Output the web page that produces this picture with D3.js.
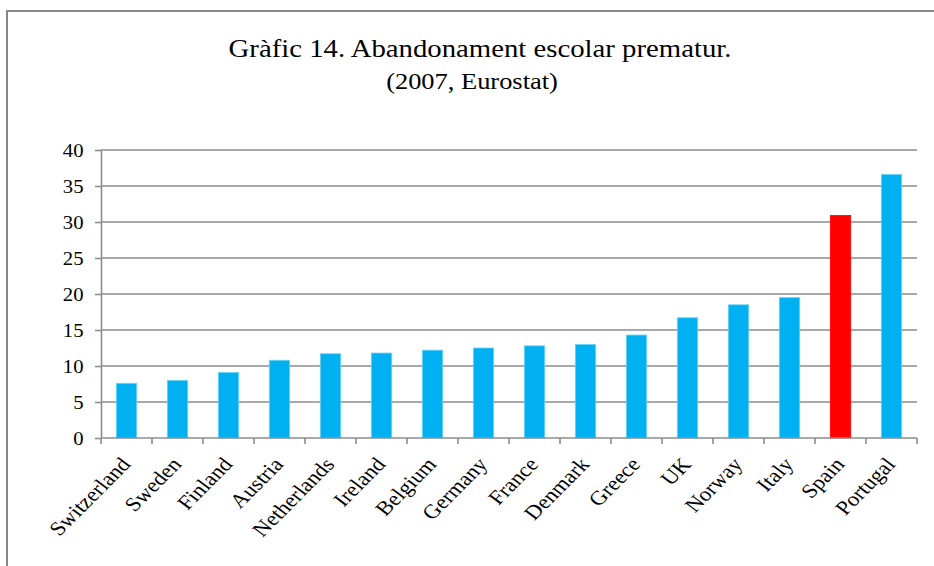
<!DOCTYPE html>
<html>
<head>
<meta charset="utf-8">
<script src="https://cdn.jsdelivr.net/npm/d3@7"></script>
<style>
  body { margin: 0; background: #fff; }
  svg text { font-family: "Liberation Serif", "Times New Roman", serif; fill: #000; }
</style>
</head>
<body>
<div id="chart"></div>
<script>
var countries = ["Switzerland", "Sweden", "Finland", "Austria", "Netherlands", "Ireland",
  "Belgium", "Germany", "France", "Denmark", "Greece", "UK", "Norway", "Italy", "Spain", "Portugal"];
var values = [7.6, 8.0, 9.1, 10.8, 11.7, 11.8, 12.2, 12.5, 12.8, 13.0, 14.3, 16.7, 18.5, 19.5, 30.9, 36.6];
var yTicks = [0, 5, 10, 15, 20, 25, 30, 35, 40];
var titleText = "Gràfic 14. Abandonament escolar prematur.";
var subtitleText = "(2007, Eurostat)";

var width = 934, height = 566;
var plotLeft = 101, plotRight = 917, plotTop = 150, plotBottom = 438;
var stretch = 1.15; // the picture is a bit wider than tall

var svg = d3.select("#chart").append("svg")
  .attr("width", width)
  .attr("height", height);

// frame of the chart object (cut at right and bottom)
svg.append("rect")
  .attr("x", 7).attr("y", 11)
  .attr("width", 960).attr("height", 600)
  .attr("fill", "none")
  .attr("stroke", "#878787")
  .attr("stroke-width", 2);

var x = d3.scaleBand()
  .domain(countries)
  .range([plotLeft, plotRight])
  .paddingInner(0.6)
  .paddingOuter(0.3);

var y = d3.scaleLinear()
  .domain([0, 40])
  .range([plotBottom, plotTop]);

// gridlines
svg.append("g")
  .selectAll("line")
  .data(yTicks.slice(1))
  .enter()
  .append("line")
  .attr("x1", plotLeft).attr("x2", plotRight)
  .attr("y1", function (d) { return y(d); })
  .attr("y2", function (d) { return y(d); })
  .attr("stroke", "#8c8c8c")
  .attr("stroke-width", 1.6);

// bars
svg.append("g")
  .selectAll("rect")
  .data(countries)
  .enter()
  .append("rect")
  .attr("x", function (d) { return x(d); })
  .attr("y", function (d, i) { return y(values[i]); })
  .attr("width", x.bandwidth())
  .attr("height", function (d, i) { return y(0) - y(values[i]); })
  .attr("fill", function (d) { return d === "Spain" ? "#ff0000" : "#00b0f0"; })
  .attr("stroke", function (d) { return d === "Spain" ? "#ff0000" : "#6fd3f6"; })
  .attr("stroke-width", 0.8);

// y axis
var yAxis = svg.append("g")
  .attr("transform", "translate(" + plotLeft + ",0)")
  .call(d3.axisLeft(y).tickValues(yTicks).tickSize(6).tickSizeOuter(0));
yAxis.select(".domain").attr("stroke", "#8c8c8c").attr("stroke-width", 1.6);
yAxis.selectAll(".tick line").attr("stroke", "#8c8c8c").attr("stroke-width", 1.6);
yAxis.selectAll(".tick text")
  .attr("x", null).attr("dy", null)
  .attr("font-size", 18)
  .attr("text-anchor", "end")
  .attr("transform", "translate(-17.5,6) scale(" + stretch + ",1)");

// x axis: ticks at band edges
var edges = countries.map(function (d) { return x(d) - x.step() * x.paddingInner() / 2; });
edges.push(plotRight);
svg.append("line")
  .attr("x1", plotLeft).attr("x2", plotRight)
  .attr("y1", plotBottom).attr("y2", plotBottom)
  .attr("stroke", "#8c8c8c").attr("stroke-width", 1.6);
svg.append("g")
  .selectAll("line")
  .data(edges)
  .enter()
  .append("line")
  .attr("x1", function (d) { return d; })
  .attr("x2", function (d) { return d; })
  .attr("y1", plotBottom).attr("y2", plotBottom + 6)
  .attr("stroke", "#8c8c8c").attr("stroke-width", 1.6);

svg.append("g")
  .selectAll("text")
  .data(countries)
  .enter()
  .append("text")
  .attr("font-size", 20)
  .attr("text-anchor", "end")
  .attr("transform", function (d) {
    var cx = x(d) + x.bandwidth() / 2 + 5;
    return "translate(" + cx + ",465) scale(" + stretch + ",1) rotate(-49)";
  })
  .text(function (d) { return d; });

// titles
svg.append("text")
  .attr("text-anchor", "middle")
  .attr("font-size", 25)
  .attr("transform", "translate(480,57) scale(" + stretch + ",1)")
  .text(titleText);
svg.append("text")
  .attr("text-anchor", "middle")
  .attr("font-size", 23)
  .attr("transform", "translate(472,89) scale(" + stretch + ",1)")
  .text(subtitleText);
</script>
</body>
</html>
